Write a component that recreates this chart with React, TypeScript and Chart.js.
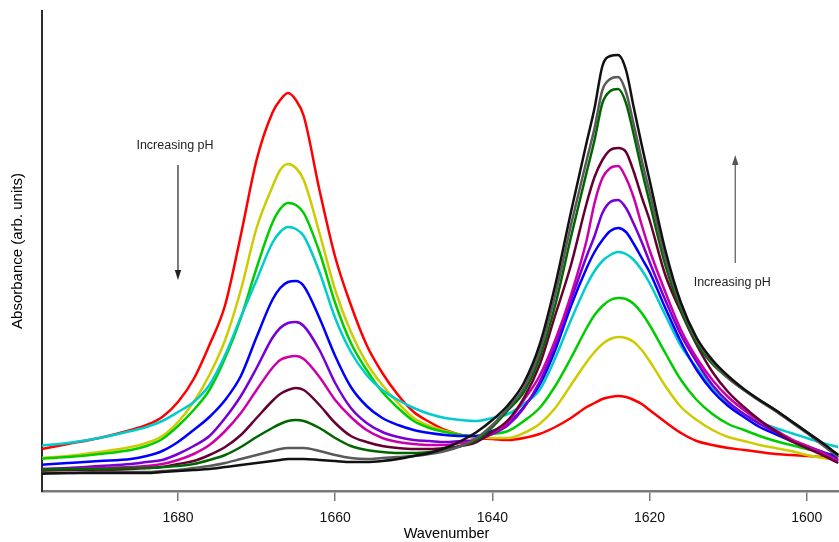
import React, { useEffect, useRef } from 'react';
import { Chart, registerables } from 'chart.js';

Chart.register(...registerables);

// Wavenumber (cm^-1) sampling positions
const wavenumbers = [1698, 1694, 1690, 1686, 1684, 1682, 1680, 1678, 1676, 1674, 1672, 1670, 1668, 1667, 1666, 1665, 1664, 1662, 1660, 1658, 1656, 1654, 1652, 1650, 1648, 1646, 1644, 1642, 1640, 1638, 1636, 1634, 1632, 1630, 1628, 1627, 1626, 1625, 1624, 1623, 1622, 1621, 1620, 1618, 1616, 1614, 1612, 1610, 1608, 1606, 1604, 1602, 1600, 1598, 1596];

const xTicks = [1680, 1660, 1640, 1620, 1600];

// Absorbance (arbitrary units, x1000), series ordered by increasing pH
const absRed = [41, 47, 53, 61, 66, 74, 89, 112, 146, 186, 256, 331, 378, 391, 398, 391, 375, 301, 234, 186, 146, 118, 96, 79, 69, 61, 56, 53, 52, 51, 53, 57, 64, 73, 84, 88, 92, 94, 95, 94, 91, 87, 81, 69, 58, 50, 46, 43, 41, 39, 37, 36, 35, 34, 33];
const absYellow = [33, 35, 39, 44, 48, 55, 69, 89, 116, 151, 201, 263, 304, 321, 327, 323, 311, 258, 201, 159, 128, 106, 88, 73, 65, 60, 56, 54, 53, 53, 58, 67, 83, 106, 129, 139, 147, 152, 154, 153, 149, 141, 130, 105, 84, 71, 61, 54, 50, 46, 43, 40, 36, 33, 31];
const absGreen = [32, 34, 37, 41, 45, 52, 65, 81, 101, 133, 173, 223, 268, 282, 288, 286, 278, 239, 188, 148, 121, 99, 83, 70, 63, 59, 56, 55, 57, 60, 70, 83, 105, 133, 163, 176, 185, 191, 193, 192, 187, 178, 166, 138, 111, 91, 77, 67, 61, 55, 50, 46, 42, 38, 35];
const absCyan = [45, 48, 53, 60, 64, 70, 79, 89, 106, 136, 174, 211, 248, 259, 264, 262, 255, 219, 173, 139, 116, 101, 91, 83, 77, 73, 71, 70, 73, 77, 87, 101, 133, 171, 206, 220, 230, 236, 239, 237, 231, 221, 208, 176, 145, 123, 103, 86, 77, 69, 63, 58, 53, 48, 44];
const absBlue = [26, 28, 30, 32, 35, 40, 49, 61, 74, 91, 115, 154, 191, 203, 209, 210, 205, 173, 135, 104, 85, 73, 66, 61, 58, 56, 55, 55, 60, 67, 84, 106, 141, 185, 223, 239, 251, 260, 263, 259, 247, 233, 219, 183, 149, 121, 100, 85, 74, 64, 57, 50, 44, 39, 34];
const absViolet = [22, 23, 25, 27, 29, 31, 37, 45, 55, 73, 95, 123, 153, 163, 168, 169, 165, 141, 108, 83, 68, 59, 54, 51, 50, 49, 50, 51, 57, 66, 83, 109, 146, 191, 235, 255, 278, 289, 291, 283, 267, 249, 229, 191, 156, 129, 106, 89, 77, 67, 59, 51, 45, 39, 31];
const absMagenta = [21, 22, 23, 24, 25, 27, 31, 37, 46, 60, 78, 101, 123, 131, 134, 135, 132, 114, 91, 74, 61, 53, 49, 47, 46, 46, 48, 50, 58, 69, 91, 115, 151, 196, 251, 288, 313, 323, 325, 313, 293, 266, 241, 199, 161, 133, 111, 94, 81, 70, 61, 52, 45, 38, 30];
const absMaroon = [20, 21, 21, 22, 23, 24, 27, 30, 36, 44, 56, 73, 90, 97, 101, 103, 101, 86, 68, 55, 49, 45, 43, 42, 42, 43, 45, 49, 59, 71, 93, 126, 176, 226, 288, 314, 331, 341, 343, 339, 319, 294, 271, 216, 179, 146, 119, 99, 84, 71, 60, 50, 43, 36, 28];
const absDarkGreen = [21, 22, 22, 23, 23, 24, 25, 27, 31, 36, 44, 54, 63, 67, 70, 71, 70, 63, 53, 45, 41, 39, 38, 38, 39, 41, 45, 51, 64, 81, 99, 133, 186, 254, 319, 351, 388, 400, 402, 388, 356, 321, 289, 226, 181, 148, 127, 113, 101, 91, 81, 70, 59, 47, 36];
const absGray = [18, 18, 19, 19, 19, 20, 21, 23, 25, 28, 32, 36, 40, 42, 43, 43, 43, 40, 36, 33, 32, 33, 34, 35, 37, 40, 45, 53, 66, 83, 103, 139, 196, 266, 331, 363, 401, 412, 414, 399, 366, 331, 299, 233, 185, 151, 129, 113, 101, 90, 80, 69, 58, 46, 34];
const absBlack = [17, 18, 18, 18, 18, 19, 20, 21, 22, 24, 26, 28, 30, 31, 32, 32, 32, 31, 30, 29, 29, 30, 32, 35, 38, 43, 50, 59, 71, 86, 108, 146, 206, 279, 349, 383, 425, 435, 436, 421, 383, 346, 311, 241, 188, 153, 131, 115, 102, 91, 81, 70, 59, 48, 36];

const seriesValues = [absRed, absYellow, absGreen, absCyan, absBlue, absViolet, absMagenta, absMaroon, absDarkGreen, absGray, absBlack];
const seriesColors = ['#ff0000', '#cccc00', '#00cc00', '#00cccc', '#0000ff', '#7700d4', '#cc00aa', '#660033', '#006600', '#5a5a5a', '#111111'];

const annotationText = 'Increasing pH';

const annotationPlugin = {
  id: 'annotations',
  afterDraw(chart: any) {
    const { ctx, scales } = chart;
    const xs = scales.x;
    const ys = scales.y;
    const area = chart.chartArea;
    ctx.save();
    ctx.fillStyle = '#000';
    ctx.textAlign = 'center';
    ctx.textBaseline = 'middle';

    // axis titles
    ctx.font = '14.5px "Liberation Sans", Arial, sans-serif';
    ctx.fillText('Wavenumber', (area.left + area.right) / 2 + 6, 534);
    ctx.save();
    ctx.translate(18, (area.top + area.bottom) / 2);
    ctx.rotate(-Math.PI / 2);
    ctx.font = '15px "Liberation Sans", Arial, sans-serif';
    ctx.fillText('Absorbance (arb. units)', 0, 0);
    ctx.restore();

    // annotations
    ctx.font = '12.5px "Liberation Sans", Arial, sans-serif';
    ctx.fillStyle = '#222';
    const lx = xs.getPixelForValue(1680);
    ctx.fillText(annotationText, lx - 3, ys.getPixelForValue(345));
    const rx = xs.getPixelForValue(1609.1);
    ctx.fillText(annotationText, rx - 3, ys.getPixelForValue(208));

    const drawArrow = (x: number, y0: number, y1: number, color: string) => {
      const dir = y1 > y0 ? 1 : -1;
      ctx.strokeStyle = color;
      ctx.fillStyle = color;
      ctx.lineWidth = 1.2;
      ctx.beginPath();
      ctx.moveTo(x, y0);
      ctx.lineTo(x, y1 - dir * 8);
      ctx.stroke();
      ctx.beginPath();
      ctx.moveTo(x, y1);
      ctx.lineTo(x - 3.2, y1 - dir * 10);
      ctx.lineTo(x + 3.2, y1 - dir * 10);
      ctx.closePath();
      ctx.fill();
    };
    drawArrow(lx, ys.getPixelForValue(326), ys.getPixelForValue(211), '#222');
    drawArrow(rx, ys.getPixelForValue(228), ys.getPixelForValue(336), '#555');
    ctx.restore();
  },
};

export default function App() {
  const canvasRef = useRef<HTMLCanvasElement | null>(null);

  useEffect(() => {
    if (!canvasRef.current) return;
    const datasets = seriesValues.map((vals, i) => ({
      label: 'pH ' + (i + 1),
      data: wavenumbers.map((w, j) => ({ x: w, y: vals[j] })),
      borderColor: seriesColors[i],
      backgroundColor: seriesColors[i],
      borderWidth: 2.5,
      pointRadius: 0,
      fill: false,
      cubicInterpolationMode: 'monotone' as const,
      order: seriesValues.length - i,
    }));

    const chart = new Chart(canvasRef.current, {
      type: 'line',
      data: { datasets },
      options: {
        animation: false,
        responsive: true,
        maintainAspectRatio: false,
        layout: { padding: { left: 42, top: 11, right: 0, bottom: 0 } },
        plugins: { legend: { display: false }, tooltip: { enabled: false } },
        scales: {
          x: {
            type: 'linear',
            reverse: true,
            min: 1595.9,
            max: 1697.3,
            afterFit: (scale: any) => {
              scale.height = 51;
            },
            afterBuildTicks: (scale: any) => {
              scale.ticks = xTicks.map((v) => ({ value: v }));
            },
            border: { display: true, color: '#7a7a7a', width: 2.5 },
            grid: {
              display: true,
              drawOnChartArea: false,
              drawTicks: true,
              tickLength: 10,
              color: '#7a7a7a',
              lineWidth: 1.5,
            },
            ticks: {
              color: '#111',
              padding: 9,
              maxRotation: 0,
              autoSkip: false,
              font: { family: '"Liberation Sans", Arial, sans-serif', size: 14 },
              callback: (v: any) => String(v),
            },
          },
          y: {
            type: 'linear',
            min: 0,
            max: 480,
            afterFit: (scale: any) => {
              scale.width = 0;
            },
            border: { display: true, color: '#2a2a2a', width: 2 },
            grid: { display: false, drawTicks: false },
            ticks: { display: false },
          },
        },
      },
      plugins: [annotationPlugin],
    });
    return () => chart.destroy();
  }, []);

  return (
    <div style={{ position: 'fixed', left: 0, top: 0, width: 839, height: 542, background: '#fff' }}>
      <canvas ref={canvasRef} />
    </div>
  );
}
